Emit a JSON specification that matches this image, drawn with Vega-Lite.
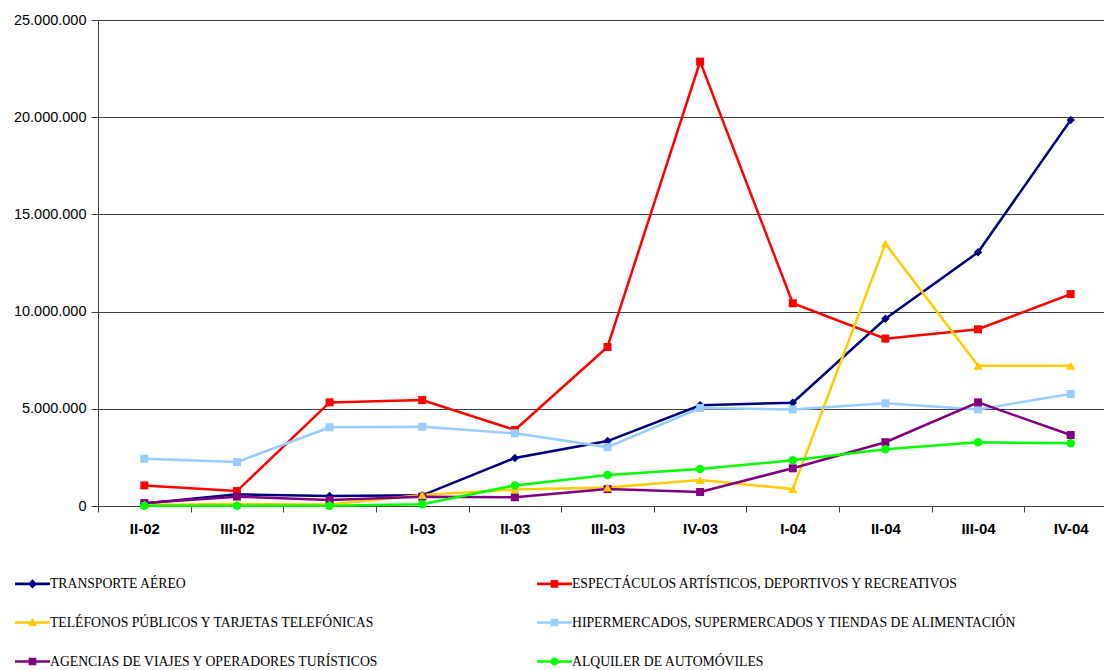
{
  "$schema": "https://vega.github.io/schema/vega-lite/v6.json",
  "width": 1006,
  "height": 486,
  "autosize": {"type": "none"},
  "padding": {"left": 98, "top": 20, "right": 0, "bottom": 164},
  "background": "white",
  "config": {
    "view": {"stroke": null},
    "locale": {"number": {"decimal": ",", "thousands": ".", "grouping": [3], "currency": ["", " €"]}},
    "axis": {"labelFont": "Liberation Sans", "labelColor": "black", "domainColor": "#404040", "tickColor": "#404040", "gridColor": "#404040"}
  },
  "data": {"values": [
    {"q": "II-02", "s": "TRANSPORTE AÉREO", "v": 130000},
    {"q": "III-02", "s": "TRANSPORTE AÉREO", "v": 600000},
    {"q": "IV-02", "s": "TRANSPORTE AÉREO", "v": 510000},
    {"q": "I-03", "s": "TRANSPORTE AÉREO", "v": 550000},
    {"q": "II-03", "s": "TRANSPORTE AÉREO", "v": 2470000},
    {"q": "III-03", "s": "TRANSPORTE AÉREO", "v": 3340000},
    {"q": "IV-03", "s": "TRANSPORTE AÉREO", "v": 5180000},
    {"q": "I-04", "s": "TRANSPORTE AÉREO", "v": 5310000},
    {"q": "II-04", "s": "TRANSPORTE AÉREO", "v": 9630000},
    {"q": "III-04", "s": "TRANSPORTE AÉREO", "v": 13050000},
    {"q": "IV-04", "s": "TRANSPORTE AÉREO", "v": 19860000},
    {"q": "II-02", "s": "ESPECTÁCULOS ARTÍSTICOS, DEPORTIVOS Y RECREATIVOS", "v": 1060000},
    {"q": "III-02", "s": "ESPECTÁCULOS ARTÍSTICOS, DEPORTIVOS Y RECREATIVOS", "v": 770000},
    {"q": "IV-02", "s": "ESPECTÁCULOS ARTÍSTICOS, DEPORTIVOS Y RECREATIVOS", "v": 5330000},
    {"q": "I-03", "s": "ESPECTÁCULOS ARTÍSTICOS, DEPORTIVOS Y RECREATIVOS", "v": 5450000},
    {"q": "II-03", "s": "ESPECTÁCULOS ARTÍSTICOS, DEPORTIVOS Y RECREATIVOS", "v": 3910000},
    {"q": "III-03", "s": "ESPECTÁCULOS ARTÍSTICOS, DEPORTIVOS Y RECREATIVOS", "v": 8180000},
    {"q": "IV-03", "s": "ESPECTÁCULOS ARTÍSTICOS, DEPORTIVOS Y RECREATIVOS", "v": 22860000},
    {"q": "I-04", "s": "ESPECTÁCULOS ARTÍSTICOS, DEPORTIVOS Y RECREATIVOS", "v": 10430000},
    {"q": "II-04", "s": "ESPECTÁCULOS ARTÍSTICOS, DEPORTIVOS Y RECREATIVOS", "v": 8610000},
    {"q": "III-04", "s": "ESPECTÁCULOS ARTÍSTICOS, DEPORTIVOS Y RECREATIVOS", "v": 9090000},
    {"q": "IV-04", "s": "ESPECTÁCULOS ARTÍSTICOS, DEPORTIVOS Y RECREATIVOS", "v": 10900000},
    {"q": "II-02", "s": "TELÉFONOS PÚBLICOS Y TARJETAS TELEFÓNICAS", "v": 50000},
    {"q": "III-02", "s": "TELÉFONOS PÚBLICOS Y TARJETAS TELEFÓNICAS", "v": 100000},
    {"q": "IV-02", "s": "TELÉFONOS PÚBLICOS Y TARJETAS TELEFÓNICAS", "v": 80000},
    {"q": "I-03", "s": "TELÉFONOS PÚBLICOS Y TARJETAS TELEFÓNICAS", "v": 560000},
    {"q": "II-03", "s": "TELÉFONOS PÚBLICOS Y TARJETAS TELEFÓNICAS", "v": 850000},
    {"q": "III-03", "s": "TELÉFONOS PÚBLICOS Y TARJETAS TELEFÓNICAS", "v": 950000},
    {"q": "IV-03", "s": "TELÉFONOS PÚBLICOS Y TARJETAS TELEFÓNICAS", "v": 1340000},
    {"q": "I-04", "s": "TELÉFONOS PÚBLICOS Y TARJETAS TELEFÓNICAS", "v": 870000},
    {"q": "II-04", "s": "TELÉFONOS PÚBLICOS Y TARJETAS TELEFÓNICAS", "v": 13500000},
    {"q": "III-04", "s": "TELÉFONOS PÚBLICOS Y TARJETAS TELEFÓNICAS", "v": 7220000},
    {"q": "IV-04", "s": "TELÉFONOS PÚBLICOS Y TARJETAS TELEFÓNICAS", "v": 7220000},
    {"q": "II-02", "s": "HIPERMERCADOS, SUPERMERCADOS Y TIENDAS DE ALIMENTACIÓN", "v": 2430000},
    {"q": "III-02", "s": "HIPERMERCADOS, SUPERMERCADOS Y TIENDAS DE ALIMENTACIÓN", "v": 2260000},
    {"q": "IV-02", "s": "HIPERMERCADOS, SUPERMERCADOS Y TIENDAS DE ALIMENTACIÓN", "v": 4050000},
    {"q": "I-03", "s": "HIPERMERCADOS, SUPERMERCADOS Y TIENDAS DE ALIMENTACIÓN", "v": 4080000},
    {"q": "II-03", "s": "HIPERMERCADOS, SUPERMERCADOS Y TIENDAS DE ALIMENTACIÓN", "v": 3740000},
    {"q": "III-03", "s": "HIPERMERCADOS, SUPERMERCADOS Y TIENDAS DE ALIMENTACIÓN", "v": 3030000},
    {"q": "IV-03", "s": "HIPERMERCADOS, SUPERMERCADOS Y TIENDAS DE ALIMENTACIÓN", "v": 5040000},
    {"q": "I-04", "s": "HIPERMERCADOS, SUPERMERCADOS Y TIENDAS DE ALIMENTACIÓN", "v": 4970000},
    {"q": "II-04", "s": "HIPERMERCADOS, SUPERMERCADOS Y TIENDAS DE ALIMENTACIÓN", "v": 5280000},
    {"q": "III-04", "s": "HIPERMERCADOS, SUPERMERCADOS Y TIENDAS DE ALIMENTACIÓN", "v": 4970000},
    {"q": "IV-04", "s": "HIPERMERCADOS, SUPERMERCADOS Y TIENDAS DE ALIMENTACIÓN", "v": 5760000},
    {"q": "II-02", "s": "AGENCIAS DE VIAJES Y OPERADORES TURÍSTICOS", "v": 150000},
    {"q": "III-02", "s": "AGENCIAS DE VIAJES Y OPERADORES TURÍSTICOS", "v": 480000},
    {"q": "IV-02", "s": "AGENCIAS DE VIAJES Y OPERADORES TURÍSTICOS", "v": 310000},
    {"q": "I-03", "s": "AGENCIAS DE VIAJES Y OPERADORES TURÍSTICOS", "v": 480000},
    {"q": "II-03", "s": "AGENCIAS DE VIAJES Y OPERADORES TURÍSTICOS", "v": 450000},
    {"q": "III-03", "s": "AGENCIAS DE VIAJES Y OPERADORES TURÍSTICOS", "v": 870000},
    {"q": "IV-03", "s": "AGENCIAS DE VIAJES Y OPERADORES TURÍSTICOS", "v": 720000},
    {"q": "I-04", "s": "AGENCIAS DE VIAJES Y OPERADORES TURÍSTICOS", "v": 1940000},
    {"q": "II-04", "s": "AGENCIAS DE VIAJES Y OPERADORES TURÍSTICOS", "v": 3280000},
    {"q": "III-04", "s": "AGENCIAS DE VIAJES Y OPERADORES TURÍSTICOS", "v": 5330000},
    {"q": "IV-04", "s": "AGENCIAS DE VIAJES Y OPERADORES TURÍSTICOS", "v": 3650000},
    {"q": "II-02", "s": "ALQUILER DE AUTOMÓVILES", "v": 10000},
    {"q": "III-02", "s": "ALQUILER DE AUTOMÓVILES", "v": 10000},
    {"q": "IV-02", "s": "ALQUILER DE AUTOMÓVILES", "v": 10000},
    {"q": "I-03", "s": "ALQUILER DE AUTOMÓVILES", "v": 90000},
    {"q": "II-03", "s": "ALQUILER DE AUTOMÓVILES", "v": 1060000},
    {"q": "III-03", "s": "ALQUILER DE AUTOMÓVILES", "v": 1600000},
    {"q": "IV-03", "s": "ALQUILER DE AUTOMÓVILES", "v": 1900000},
    {"q": "I-04", "s": "ALQUILER DE AUTOMÓVILES", "v": 2350000},
    {"q": "II-04", "s": "ALQUILER DE AUTOMÓVILES", "v": 2920000},
    {"q": "III-04", "s": "ALQUILER DE AUTOMÓVILES", "v": 3280000},
    {"q": "IV-04", "s": "ALQUILER DE AUTOMÓVILES", "v": 3230000}
  ]},
  "encoding": {
    "x": {
      "field": "q", "type": "nominal", "sort": null, "bandPosition": 0.5,
      "scale": {"type": "band", "paddingInner": 0, "paddingOuter": 0, "range": [0, 1019]},
      "axis": {"title": null, "labelAngle": 0, "labelFont": "Liberation Sans", "labelFontSize": 15, "labelFontWeight": "bold", "labelPadding": 9, "tickBand": "extent", "tickSize": 6, "domain": true, "grid": false}
    },
    "y": {
      "field": "v", "type": "quantitative",
      "scale": {"domain": [0, 25000000], "nice": false},
      "axis": {"title": null, "values": [0, 5000000, 10000000, 15000000, 20000000, 25000000], "format": ",d", "labelFontSize": 14.5, "labelPadding": 5, "tickSize": 7, "grid": true, "gridWidth": 1}
    }
  },
  "layer": [
    {
      "mark": {"type": "point", "filled": true, "opacity": 1, "size": 0},
      "encoding": {
        "color": {
          "field": "s", "type": "nominal",
          "scale": {
            "domain": ["TRANSPORTE AÉREO", "ESPECTÁCULOS ARTÍSTICOS, DEPORTIVOS Y RECREATIVOS", "TELÉFONOS PÚBLICOS Y TARJETAS TELEFÓNICAS", "HIPERMERCADOS, SUPERMERCADOS Y TIENDAS DE ALIMENTACIÓN", "AGENCIAS DE VIAJES Y OPERADORES TURÍSTICOS", "ALQUILER DE AUTOMÓVILES"],
            "range": ["#000080", "#FF0000", "#FFCC00", "#99CCFF", "#800080", "#00FF00"]
          },
          "legend": {
            "title": null, "orient": "none", "legendX": -83, "legendY": 546, "direction": "vertical", "columns": 2, "gridAlign": "all",
            "values": ["TRANSPORTE AÉREO", "TELÉFONOS PÚBLICOS Y TARJETAS TELEFÓNICAS", "AGENCIAS DE VIAJES Y OPERADORES TURÍSTICOS", "ESPECTÁCULOS ARTÍSTICOS, DEPORTIVOS Y RECREATIVOS", "HIPERMERCADOS, SUPERMERCADOS Y TIENDAS DE ALIMENTACIÓN", "ALQUILER DE AUTOMÓVILES"],
            "columnPadding": 41, "rowPadding": 14, "symbolSize": 1225, "symbolOpacity": 1, "symbolStrokeWidth": 0, "labelOffset": 0, "labelLimit": 700,
            "labelFont": "Liberation Serif", "labelFontSize": 13.7, "labelColor": "black"
          }
        },
        "shape": {
          "field": "s", "type": "nominal",
          "scale": {
            "domain": ["TRANSPORTE AÉREO", "ESPECTÁCULOS ARTÍSTICOS, DEPORTIVOS Y RECREATIVOS", "TELÉFONOS PÚBLICOS Y TARJETAS TELEFÓNICAS", "HIPERMERCADOS, SUPERMERCADOS Y TIENDAS DE ALIMENTACIÓN", "AGENCIAS DE VIAJES Y OPERADORES TURÍSTICOS", "ALQUILER DE AUTOMÓVILES"],
            "range": [
              "M-1,-0.075L1,-0.075L1,0.075L-1,0.075ZM0,-0.26L0.26,0L0,0.26L-0.26,0Z",
              "M-1,-0.075L1,-0.075L1,0.075L-1,0.075ZM-0.22,-0.22L0.22,-0.22L0.22,0.22L-0.22,0.22Z",
              "M-1,-0.075L1,-0.075L1,0.075L-1,0.075ZM0,-0.26L0.26,0.2L-0.26,0.2Z",
              "M-1,-0.075L1,-0.075L1,0.075L-1,0.075ZM-0.22,-0.22L0.22,-0.22L0.22,0.22L-0.22,0.22Z",
              "M-1,-0.075L1,-0.075L1,0.075L-1,0.075ZM-0.22,-0.22L0.22,-0.22L0.22,0.22L-0.22,0.22Z",
              "M-1,-0.075L1,-0.075L1,0.075L-1,0.075ZM0.23,0A0.23,0.23,0,1,1,-0.23,0A0.23,0.23,0,1,1,0.23,0Z"
            ]
          },
          "legend": {
            "title": null, "orient": "none", "legendX": -83, "legendY": 546, "direction": "vertical", "columns": 2, "gridAlign": "all",
            "values": ["TRANSPORTE AÉREO", "TELÉFONOS PÚBLICOS Y TARJETAS TELEFÓNICAS", "AGENCIAS DE VIAJES Y OPERADORES TURÍSTICOS", "ESPECTÁCULOS ARTÍSTICOS, DEPORTIVOS Y RECREATIVOS", "HIPERMERCADOS, SUPERMERCADOS Y TIENDAS DE ALIMENTACIÓN", "ALQUILER DE AUTOMÓVILES"],
            "columnPadding": 41, "rowPadding": 14, "symbolSize": 1225, "symbolOpacity": 1, "symbolStrokeWidth": 0, "labelOffset": 0, "labelLimit": 700,
            "labelFont": "Liberation Serif", "labelFontSize": 13.7, "labelColor": "black"
          }
        }
      }
    },
    {
      "mark": {"type": "line", "strokeWidth": 2.5},
      "encoding": {"color": {"field": "s", "type": "nominal", "legend": null}}
    },
    {
      "transform": [{"filter": {"field": "s", "equal": "TRANSPORTE AÉREO"}}],
      "mark": {"type": "point", "filled": true, "opacity": 1, "size": 72, "shape": "diamond"},
      "encoding": {"color": {"field": "s", "type": "nominal", "legend": null}}
    },
    {
      "transform": [{"filter": {"field": "s", "oneOf": ["ESPECTÁCULOS ARTÍSTICOS, DEPORTIVOS Y RECREATIVOS", "HIPERMERCADOS, SUPERMERCADOS Y TIENDAS DE ALIMENTACIÓN", "AGENCIAS DE VIAJES Y OPERADORES TURÍSTICOS"]}}],
      "mark": {"type": "point", "filled": true, "opacity": 1, "size": 64, "shape": "square"},
      "encoding": {"color": {"field": "s", "type": "nominal", "legend": null}}
    },
    {
      "transform": [{"filter": {"field": "s", "equal": "TELÉFONOS PÚBLICOS Y TARJETAS TELEFÓNICAS"}}],
      "mark": {"type": "point", "filled": true, "opacity": 1, "size": 85, "shape": "triangle-up"},
      "encoding": {"color": {"field": "s", "type": "nominal", "legend": null}}
    },
    {
      "transform": [{"filter": {"field": "s", "equal": "ALQUILER DE AUTOMÓVILES"}}],
      "mark": {"type": "point", "filled": true, "opacity": 1, "size": 72, "shape": "circle"},
      "encoding": {"color": {"field": "s", "type": "nominal", "legend": null}}
    }
  ]
}
